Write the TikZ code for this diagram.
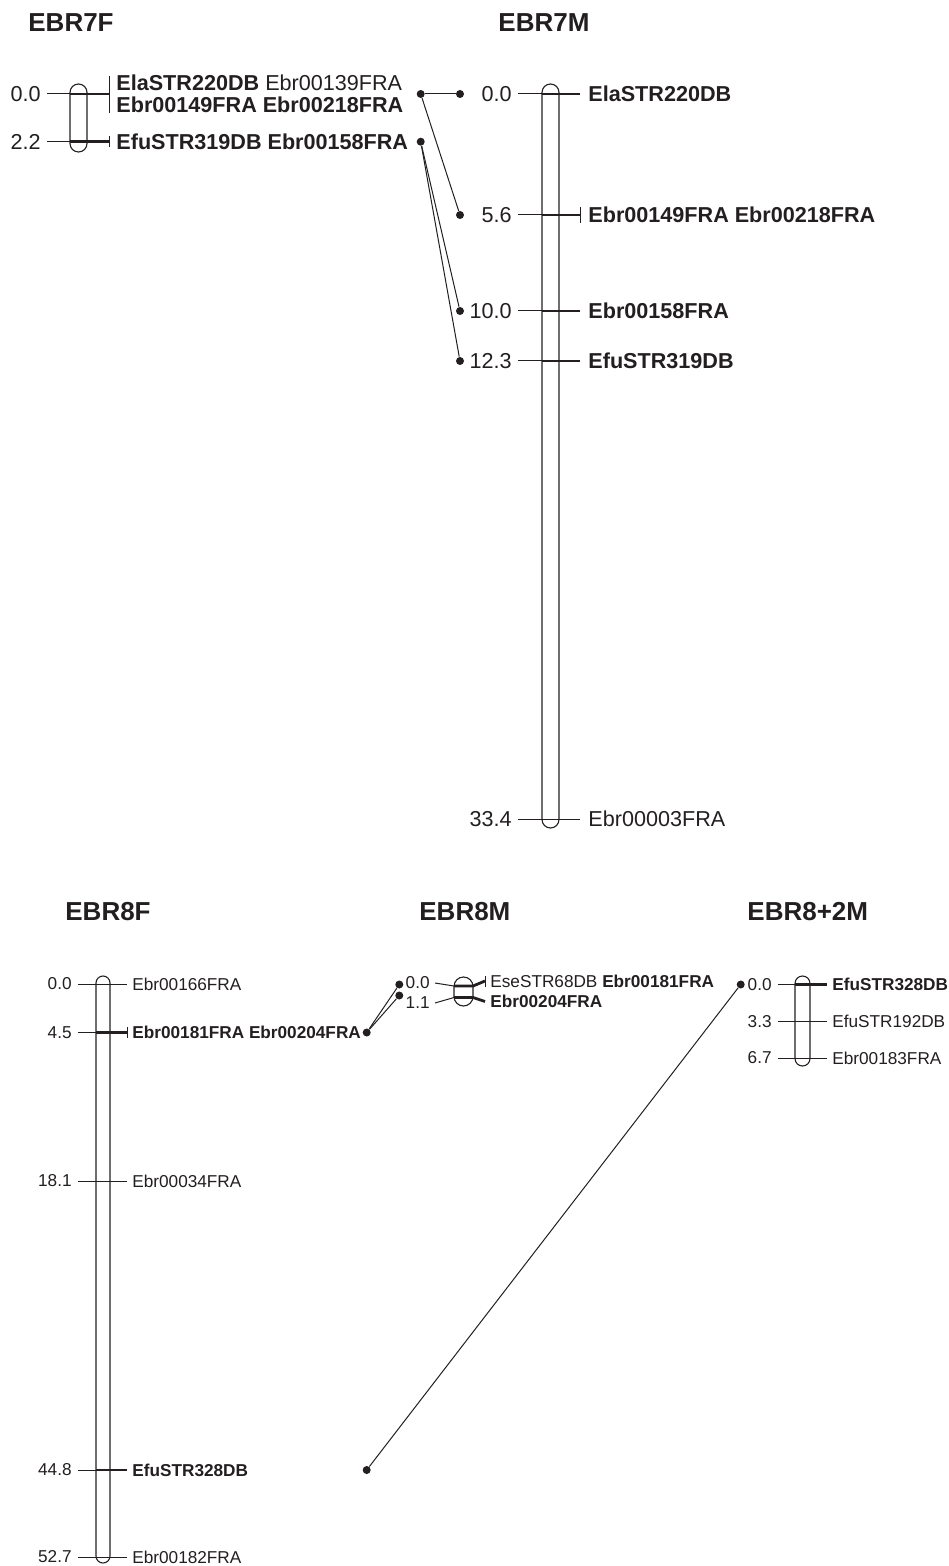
\documentclass[tikz,border=0pt]{standalone}
\usepackage{fontspec}
\setmainfont{Liberation Sans}
\definecolor{ink}{RGB}{35,31,32}
\newcommand{\upfont}{\fontsize{10.8}{13}\selectfont}
\newcommand{\lowfont}{\fontsize{8.6}{10.3}\selectfont}
\tikzset{
  map/chr/.style={draw=ink, line width=0.55pt},
  map/thin/.style={draw=ink, line width=0.5pt},
  map/thick/.style={draw=ink, line width=1.4pt},
  map/pos/.style={anchor=east, inner sep=0pt, text=ink},
  map/loc/.style={anchor=west, inner sep=0pt, text=ink},
  map/title/.style={anchor=west, inner sep=0pt, text=ink, font=\bfseries\fontsize{13}{15}\selectfont},
  map/dot/.style={circle, fill=ink, inner sep=0pt, minimum size=4pt},
  map/link/.style={draw=ink, line width=0.5pt}
}

\begin{document}
\begin{tikzpicture}[x=0.5pt, y=-0.5pt]
\useasboundingbox (0,0) rectangle (948,1566);

% --- titles
\node[map/title] (t7f) at (28,22.5) {EBR7F};
\node[map/title] (t7m) at (498,22.5) {EBR7M};
\node[map/title] (t8f) at (65,912) {EBR8F};
\node[map/title] (t8m) at (419,912) {EBR8M};
\node[map/title] (t82m) at (747,912) {EBR8+2M};

% --- EBR7F
\begin{scope}[every node/.append style={font=\upfont}]
\draw[map/chr, rounded corners=4.25pt] (70,84) rectangle (87,152);
\draw[map/thin] (47,94) -- (109,94);
\draw[map/thick] (70,94) -- (109,94);
\draw[map/thin] (109,76) -- (109,113);
\draw[map/thin] (47,141.7) -- (109,141.7);
\draw[map/thick] (70,141.7) -- (109,141.7);
\draw[map/thin] (109,136) -- (109,147);
\node[map/pos] (p7f-0) at (41,94) {0.0};
\node[map/pos] (p7f-2) at (41,141.7) {2.2};
\node[map/loc] (m7f-0a) at (116,83) {\textbf{ElaSTR220DB} Ebr00139FRA};
\node[map/loc] (m7f-0b) at (116,104.5) {\textbf{Ebr00149FRA Ebr00218FRA}};
\node[map/loc] (m7f-2) at (116,141.7) {\textbf{EfuSTR319DB Ebr00158FRA}};
\end{scope}

% --- EBR7M
\begin{scope}[every node/.append style={font=\upfont}]
\draw[map/chr, rounded corners=4.25pt] (542,84) rectangle (559,828);
\foreach \y in {94,215,311,361}{
  \draw[map/thin] (518,\y) -- (580,\y);
  \draw[map/thick] (542,\y) -- (580,\y);
}
\draw[map/thin] (580,207) -- (580,223);
\draw[map/thin] (518,819) -- (580,819);
\node[map/pos] (p7m-0) at (512,94) {0.0};
\node[map/pos] (p7m-5) at (512,215) {5.6};
\node[map/pos] (p7m-10) at (512,311) {10.0};
\node[map/pos] (p7m-12) at (512,361) {12.3};
\node[map/pos] (p7m-33) at (512,819) {33.4};
\node[map/loc] (m7m-0) at (588,94) {\textbf{ElaSTR220DB}};
\node[map/loc] (m7m-5) at (588,215) {\textbf{Ebr00149FRA Ebr00218FRA}};
\node[map/loc] (m7m-10) at (588,311) {\textbf{Ebr00158FRA}};
\node[map/loc] (m7m-12) at (588,361) {\textbf{EfuSTR319DB}};
\node[map/loc] (m7m-33) at (588,819) {Ebr00003FRA};
\end{scope}

% --- EBR8F
\begin{scope}[every node/.append style={font=\lowfont}]
\draw[map/chr, rounded corners=3.5pt] (96,976) rectangle (110,1563);
\foreach \y in {984,1032.5,1181,1470,1557}
  \draw[map/thin] (78,\y) -- (127,\y);
\foreach \y in {1032.5,1470}
  \draw[map/thick] (96,\y) -- (127,\y);
\draw[map/thin] (127,1027) -- (127,1038);
\node[map/pos] (p8f-0) at (72,984) {0.0};
\node[map/pos] (p8f-4) at (72,1032.5) {4.5};
\node[map/pos] (p8f-18) at (72,1181) {18.1};
\node[map/pos] (p8f-44) at (72,1470) {44.8};
\node[map/pos] (p8f-52) at (72,1557) {52.7};
\node[map/loc] (m8f-0) at (132,984) {Ebr00166FRA};
\node[map/loc] (m8f-4) at (132,1032.5) {\textbf{Ebr00181FRA Ebr00204FRA}};
\node[map/loc] (m8f-18) at (132,1181) {Ebr00034FRA};
\node[map/loc] (m8f-44) at (132,1470) {\textbf{EfuSTR328DB}};
\node[map/loc] (m8f-52) at (132,1557) {Ebr00182FRA};
\end{scope}

% --- EBR8M
\begin{scope}[every node/.append style={font=\lowfont}]
\draw[map/chr, rounded corners=4.75pt] (454,977) rectangle (473,1006);
\draw[map/thin] (435,983) -- (454,986);
\draw[map/thick] (454,986) -- (473,986) -- (485,981);
\draw[map/thin] (485,976) -- (485,987);
\draw[map/thin] (435,1003) -- (454,997.5);
\draw[map/thick] (454,997.5) -- (473,997.5) -- (485,1001.5);
\node[map/pos] (p8m-0) at (430,983) {0.0};
\node[map/pos] (p8m-1) at (430,1003) {1.1};
\node[map/loc] (m8m-0) at (490,981) {EseSTR68DB \textbf{Ebr00181FRA}};
\node[map/loc] (m8m-1) at (490,1001.5) {\textbf{Ebr00204FRA}};
\end{scope}

% --- EBR8+2M
\begin{scope}[every node/.append style={font=\lowfont}]
\draw[map/chr, rounded corners=3.75pt] (795,976) rectangle (810,1066);
\foreach \y in {984.5,1021.5,1058}
  \draw[map/thin] (778,\y) -- (827,\y);
\draw[map/thick] (795,984.5) -- (827,984.5);
\node[map/pos] (p82m-0) at (772,984.5) {0.0};
\node[map/pos] (p82m-3) at (772,1021.5) {3.3};
\node[map/pos] (p82m-6) at (772,1058) {6.7};
\node[map/loc] (m82m-0) at (832,984.5) {\textbf{EfuSTR328DB}};
\node[map/loc] (m82m-3) at (832,1021.5) {EfuSTR192DB};
\node[map/loc] (m82m-6) at (832,1058) {Ebr00183FRA};
\end{scope}

% --- dots and links
\node[map/dot] (d7f-0) at (420.7,94) {};
\node[map/dot] (d7f-2) at (420.7,141.7) {};
\node[map/dot] (d7m-0) at (460,94) {};
\node[map/dot] (d7m-5) at (460,215) {};
\node[map/dot] (d7m-10) at (460,311) {};
\node[map/dot] (d7m-12) at (460,361) {};
\node[map/dot] (d8f-4) at (366.7,1032.5) {};
\node[map/dot] (d8f-44) at (366.7,1470) {};
\node[map/dot] (d8m-0) at (399.3,984.5) {};
\node[map/dot] (d8m-1) at (399.3,995.5) {};
\node[map/dot] (d82m-0) at (740.7,984.5) {};

\draw[map/link] (d7f-0) -- (d7m-0);
\draw[map/link] (d7f-0) -- (d7m-5);
\draw[map/link] (d7f-2) -- (d7m-10);
\draw[map/link] (d7f-2) -- (d7m-12);
\draw[map/link] (d8f-4) -- (d8m-0);
\draw[map/link] (d8f-4) -- (d8m-1);
\draw[map/link] (d8f-44) -- (d82m-0);

\end{tikzpicture}
\end{document}
